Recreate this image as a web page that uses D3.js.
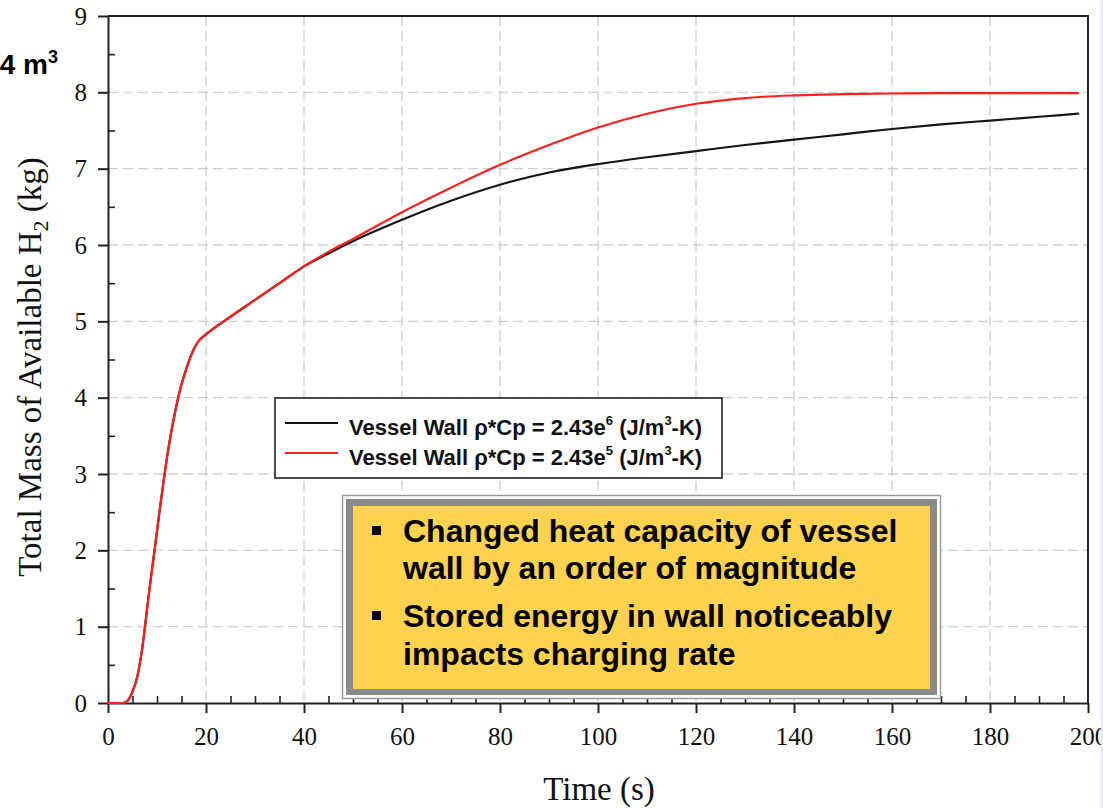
<!DOCTYPE html>
<html>
<head>
<meta charset="utf-8">
<script src="https://cdn.jsdelivr.net/npm/d3@7"></script>
<style>
  html, body { margin: 0; padding: 0; background: #fff; }
  svg { display: block; }
</style>
</head>
<body>
<svg id="chart" width="1103" height="808"></svg>
<script>
// Time samples (s) shared by both runs
const timeS = [0, 3, 4, 5, 6, 6.5, 7, 7.5, 8, 8.7, 9.5, 10.5, 11.5, 12.5, 13.5, 14.7, 16.1, 17.4, 18.6, 19.8,
               25, 30, 35, 40, 45, 50, 60, 70, 80, 90, 100, 110, 120, 130, 140, 150, 160, 170, 180, 190, 198];

// Total mass of available H2 (kg), wall rho*Cp = 2.43e6
const massHighCp = [0, 0, 0.03, 0.15, 0.35, 0.52, 0.72, 0.97, 1.25, 1.61, 2.0, 2.5, 2.98, 3.4, 3.75, 4.1, 4.4, 4.62, 4.75, 4.82,
                    5.06, 5.28, 5.5, 5.72, 5.89, 6.05, 6.33, 6.58, 6.79, 6.95, 7.06, 7.15, 7.23, 7.31, 7.38, 7.45, 7.52, 7.58, 7.63, 7.68, 7.72];

// Total mass of available H2 (kg), wall rho*Cp = 2.43e5
const massLowCp = [0, 0, 0.03, 0.15, 0.35, 0.52, 0.72, 0.97, 1.25, 1.61, 2.0, 2.5, 2.98, 3.4, 3.75, 4.1, 4.4, 4.62, 4.75, 4.82,
                   5.06, 5.28, 5.5, 5.72, 5.91, 6.08, 6.43, 6.75, 7.05, 7.31, 7.54, 7.72, 7.85, 7.925, 7.96, 7.977, 7.985, 7.99, 7.99, 7.99, 7.99];

const xTicks = [0, 20, 40, 60, 80, 100, 120, 140, 160, 180, 200];
const yTicks = [0, 1, 2, 3, 4, 5, 6, 7, 8, 9];

const legendLabels = [
  { base: "Vessel Wall \u03C1*Cp = 2.43e", exp: "6" },
  { base: "Vessel Wall \u03C1*Cp = 2.43e", exp: "5" }
];

const noteLines = [
  ["Changed heat capacity of vessel", "wall by an order of magnitude"],
  ["Stored energy in wall noticeably", "impacts charging rate"]
];

const serif = "'Liberation Serif', 'Times New Roman', serif";
const sans = "'Liberation Sans', Arial, sans-serif";

const svg = d3.select("#chart");
const plotL = 108, plotR = 1088, plotT = 16, plotB = 703;

const x = d3.scaleLinear().domain([0, 200]).range([plotL, plotR]);
const y = d3.scaleLinear().domain([0, 9]).range([plotB, plotT]);

// dashed grid
const grid = svg.append("g").attr("stroke", "#cfcfcf").attr("stroke-width", 1.4).attr("stroke-dasharray", "10,5");
grid.selectAll("line.gx").data(xTicks.filter(d => d > 0 && d < 200)).join("line").attr("class", "gx")
  .attr("x1", d => x(d)).attr("x2", d => x(d)).attr("y1", plotT).attr("y2", plotB);
grid.selectAll("line.gy").data(yTicks.filter(d => d > 0 && d < 9)).join("line").attr("class", "gy")
  .attr("x1", plotL).attr("x2", plotR).attr("y1", d => y(d)).attr("y2", d => y(d));

// frame (top and right)
svg.append("path")
  .attr("d", `M${plotL},${plotT}H${plotR}V${plotB}`)
  .attr("fill", "none").attr("stroke", "#222").attr("stroke-width", 2);

// x axis: major ticks outward, minor ticks inward
const xMajor = d3.axisBottom(x).tickValues(xTicks).tickSizeInner(10).tickSizeOuter(0).tickPadding(8).tickFormat(d3.format("d"));
const gx = svg.append("g").attr("transform", `translate(0,${plotB})`).call(xMajor);
gx.select(".domain").attr("stroke", "#222").attr("stroke-width", 2);
gx.selectAll(".tick line").attr("stroke", "#222").attr("stroke-width", 2);
gx.selectAll(".tick text").attr("font-family", serif).attr("font-size", 25).attr("fill", "#111").attr("dy", "0.95em");

const xMinorVals = d3.range(0, 201, 5).filter(d => d % 20 !== 0);
const gxm = svg.append("g").attr("transform", `translate(0,${plotB})`)
  .call(d3.axisTop(x).tickValues(xMinorVals).tickSize(7).tickFormat(""));
gxm.select(".domain").remove();
gxm.selectAll(".tick line").attr("stroke", "#222").attr("stroke-width", 1.6);

// y axis
const yMajor = d3.axisLeft(y).tickValues(yTicks).tickSizeInner(10).tickSizeOuter(0).tickPadding(11).tickFormat(d3.format("d"));
const gy = svg.append("g").attr("transform", `translate(${plotL},0)`).call(yMajor);
gy.select(".domain").attr("stroke", "#222").attr("stroke-width", 2);
gy.selectAll(".tick line").attr("stroke", "#222").attr("stroke-width", 2);
gy.selectAll(".tick text").attr("font-family", serif).attr("font-size", 25).attr("fill", "#111");

const yMinorVals = d3.range(0.5, 9, 1);
const gym = svg.append("g").attr("transform", `translate(${plotL},0)`)
  .call(d3.axisRight(y).tickValues(yMinorVals).tickSize(7).tickFormat(""));
gym.select(".domain").remove();
gym.selectAll(".tick line").attr("stroke", "#222").attr("stroke-width", 1.6);

// series
const line = d3.line().x(d => x(d[0])).y(d => y(d[1])).curve(d3.curveMonotoneX);
const series = [
  { vals: massHighCp, color: "#151515" },
  { vals: massLowCp, color: "#ff1e1e" }
];
svg.append("g").selectAll("path").data(series).join("path")
  .attr("d", s => line(timeS.map((t, i) => [t, s.vals[i]])))
  .attr("fill", "none").attr("stroke", s => s.color).attr("stroke-width", 2.2)
  .attr("stroke-linejoin", "round").attr("stroke-linecap", "round");

// slide edge strip (overlaps the last tick label, as on the slide)
svg.append("rect").attr("x", 1101).attr("y", 0).attr("width", 2).attr("height", 808).attr("fill", "#dfe9f7");

// axis titles
svg.append("text").attr("x", 599).attr("y", 800)
  .attr("text-anchor", "middle").attr("font-family", serif).attr("font-size", 33).attr("fill", "#111")
  .text("Time (s)");

const yt = svg.append("text").attr("transform", "translate(41,367) rotate(-90)")
  .attr("text-anchor", "middle").attr("font-family", serif).attr("font-size", 33).attr("fill", "#111");
yt.append("tspan").text("Total Mass of Available H");
yt.append("tspan").attr("font-size", 22).attr("dy", 7).text("2");
yt.append("tspan").attr("dy", -7).text(" (kg)");

// clipped slide caption fragment
const cap = svg.append("text").attr("x", 58).attr("y", 74).attr("text-anchor", "end")
  .attr("font-family", sans).attr("font-weight", "bold").attr("font-size", 28).attr("fill", "#000");
cap.append("tspan").text("4 m");
cap.append("tspan").attr("font-size", 18).attr("dy", -11).text("3");

// legend
const lg = svg.append("g");
lg.append("rect").attr("x", 275).attr("y", 398).attr("width", 447).attr("height", 80)
  .attr("fill", "#fff").attr("stroke", "#222").attr("stroke-width", 1.6);
legendLabels.forEach((lab, i) => {
  const ly = 423 + i * 30;
  lg.append("line").attr("x1", 285).attr("x2", 338).attr("y1", ly).attr("y2", ly)
    .attr("stroke", series[i].color).attr("stroke-width", 2);
  const t = lg.append("text").attr("x", 349).attr("y", ly + 12)
    .attr("font-family", sans).attr("font-weight", "bold").attr("font-size", 22).attr("fill", "#111");
  t.append("tspan").text(lab.base);
  t.append("tspan").attr("font-size", 13).attr("dy", -10).text(lab.exp);
  t.append("tspan").attr("dy", 10).text(" (J/m");
  t.append("tspan").attr("font-size", 13).attr("dy", -10).text("3");
  t.append("tspan").attr("dy", 10).text("-K)");
});

// note box
const nb = svg.append("g");
nb.append("rect").attr("x", 342.5).attr("y", 495.5).attr("width", 598).attr("height", 203)
  .attr("fill", "#fff").attr("stroke", "#9a9a9a").attr("stroke-width", 1.5);
nb.append("rect").attr("x", 346).attr("y", 499).attr("width", 591).attr("height", 196)
  .attr("fill", "#8a8a8a");
nb.append("rect").attr("x", 353).attr("y", 506).attr("width", 577).attr("height", 183)
  .attr("fill", "#ffd24f");

const lineY = [[542, 579], [627, 665]];
noteLines.forEach((pair, i) => {
  nb.append("rect").attr("x", 372).attr("y", lineY[i][0] - 16).attr("width", 9).attr("height", 9).attr("fill", "#000");
  pair.forEach((txt, j) => {
    nb.append("text").attr("x", 403).attr("y", lineY[i][j])
      .attr("font-family", sans).attr("font-weight", "bold").attr("font-size", 32).attr("fill", "#000")
      .text(txt);
  });
});
</script>
</body>
</html>
